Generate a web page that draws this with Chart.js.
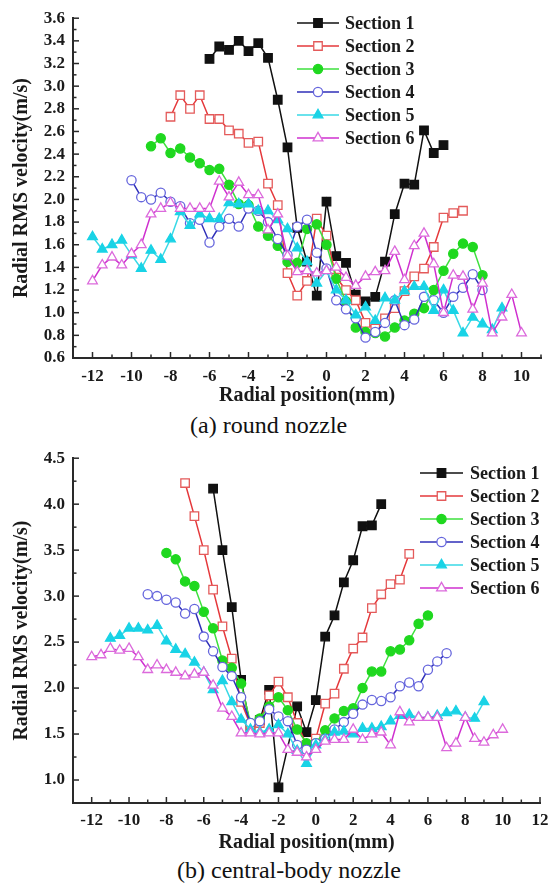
<!DOCTYPE html>
<html><head><meta charset="utf-8">
<script src="https://cdn.jsdelivr.net/npm/chart.js@4.4.1/dist/chart.umd.min.js"></script>
<style>
html,body{margin:0;padding:0;background:#fff;}
body{width:556px;height:886px;position:relative;overflow:hidden;}
.box{position:absolute;left:0;width:556px;}
.cap{position:absolute;font-family:"Liberation Serif","Times New Roman",serif;font-size:24px;color:#111;white-space:nowrap;line-height:26px;}
</style></head><body>
<div class="box" style="top:0;height:408px"><canvas id="ca" width="556" height="408"></canvas></div>
<div class="cap" style="left:190px;top:412px">(a) round nozzle</div>
<div class="box" style="top:440px;height:415px"><canvas id="cb" width="556" height="415"></canvas></div>
<div class="cap" style="left:177px;top:857px">(b) central-body nozzle</div>
<script>
// ---------- data ----------
const seriesNames = ['Section 1','Section 2','Section 3','Section 4','Section 5','Section 6'];

// (a) round nozzle
const aX1 = [-6,-5.5,-5,-4.5,-4,-3.5,-3,-2.5,-2,-1.5,-1,-0.5,0,0.5,1,1.5,2,2.5,3,3.5,4,4.5,5,5.5,6];
const aY1 = [3.24,3.35,3.32,3.40,3.31,3.38,3.25,2.88,2.46,1.75,1.45,1.15,1.98,1.50,1.44,1.16,1.10,1.14,1.45,1.87,2.14,2.13,2.61,2.41,2.48];
const aX2 = [-8,-7.5,-7,-6.5,-6,-5.5,-5,-4.5,-4,-3.5,-3,-2.5,-2,-1.5,-1,-0.5,0,0.5,1,1.5,2,2.5,3,3.5,4,4.5,5,5.5,6,6.5,7];
const aY2 = [2.73,2.92,2.80,2.92,2.71,2.71,2.61,2.58,2.50,2.51,2.14,1.95,1.35,1.15,1.28,1.83,1.68,1.31,1.20,1.11,0.91,0.86,0.95,1.04,1.19,1.32,1.39,1.58,1.84,1.88,1.90];
const aX3 = [-9,-8.5,-8,-7.5,-7,-6.5,-6,-5.5,-5,-4.5,-4,-3.5,-3,-2.5,-2,-1.5,-1,-0.5,0,0.5,1,1.5,2,2.5,3,3.5,4,4.5,5,5.5,6,6.5,7,7.5,8];
const aY3 = [2.47,2.54,2.41,2.45,2.37,2.32,2.26,2.27,2.13,1.96,1.95,1.76,1.68,1.59,1.45,1.44,1.74,1.78,1.60,1.30,1.10,0.87,0.83,0.82,0.79,0.87,0.93,0.99,1.04,1.20,1.37,1.52,1.61,1.58,1.33];
const aX4 = [-10,-9.5,-9,-8.5,-8,-7.5,-7,-6.5,-6,-5.5,-5,-4.5,-4,-3.5,-3,-2.5,-2,-1.5,-1,-0.5,0,0.5,1,1.5,2,2.5,3,3.5,4,4.5,5,5.5,6,6.5,7,7.5,8];
const aY4 = [2.17,2.02,2.00,2.06,1.98,1.94,1.79,1.82,1.62,1.76,1.83,1.76,1.92,1.90,1.80,1.65,1.51,1.76,1.82,1.53,1.39,1.11,1.03,0.95,0.78,0.83,0.91,1.11,0.89,0.94,1.14,1.11,1.00,1.14,1.22,1.34,1.20];
const aX5 = [-12,-11.5,-11,-10.5,-10,-9.5,-9,-8.5,-8,-7.5,-7,-6.5,-6,-5.5,-5,-4.5,-4,-3.5,-3,-2.5,-2,-1.5,-1,-0.5,0,0.5,1,1.5,2,2.5,3,3.5,4,4.5,5,5.5,6,6.5,7,7.5,8,8.5,9];
const aY5 = [1.67,1.56,1.60,1.64,1.51,1.39,1.55,1.47,1.65,1.89,1.77,1.87,1.83,1.83,1.97,1.96,1.96,1.90,1.90,1.82,1.74,1.57,1.45,1.26,1.37,1.20,1.11,0.98,1.05,0.93,1.13,1.11,1.19,1.23,1.23,1.02,1.20,1.02,0.82,0.96,0.90,0.85,1.04];
const aX6 = [-12,-11.5,-11,-10.5,-10,-9.5,-9,-8.5,-8,-7.5,-7,-6.5,-6,-5.5,-5,-4.5,-4,-3.5,-3,-2.5,-2,-1.5,-1,-0.5,0,0.5,1,1.5,2,2.5,3,3.5,4,4.5,5,5.5,6,6.5,7,7.5,8,8.5,9,9.5,10];
const aY6 = [1.28,1.42,1.49,1.42,1.52,1.60,1.87,1.92,1.97,1.92,1.92,1.92,1.92,2.16,2.02,2.15,2.04,2.04,1.73,1.87,1.50,1.36,1.37,1.35,1.37,1.40,1.31,1.24,1.32,1.36,1.37,1.54,1.29,1.59,1.70,1.43,1.00,1.33,1.32,1.03,1.26,0.82,0.96,1.16,0.82];
const aXTicks = [-12,-10,-8,-6,-4,-2,0,2,4,6,8,10];
const aYTicks = [0.6,0.8,1.0,1.2,1.4,1.6,1.8,2.0,2.2,2.4,2.6,2.8,3.0,3.2,3.4,3.6];

// (b) central-body nozzle
const bX1 = [-5.5,-5,-4.5,-4,-3.5,-3,-2.5,-2,-1,-0.5,0,0.5,1,1.5,2,2.5,3,3.5];
const bY1 = [4.17,3.50,2.88,2.09,1.58,1.65,1.98,0.92,1.80,1.52,1.87,2.56,2.79,3.15,3.39,3.76,3.77,4.00];
const bX2 = [-7,-6.5,-6,-5.5,-5,-4.5,-4,-3.5,-3,-2.5,-2,-1.5,-1,-0.5,0,0.5,1,1.5,2,2.5,3,3.5,4,4.5,5];
const bY2 = [4.23,3.87,3.50,3.07,2.67,2.32,1.85,1.60,1.62,1.92,2.07,1.90,1.62,1.38,1.45,1.83,1.94,2.21,2.43,2.55,2.87,3.02,3.13,3.18,3.46];
const bX3 = [-8,-7.5,-7,-6.5,-6,-5.5,-5,-4.5,-4,-3.5,-3,-2.5,-2,-1.5,-1,-0.5,0,0.5,1,1.5,2,2.5,3,3.5,4,4.5,5,5.5,6];
const bY3 = [3.47,3.40,3.16,3.11,2.83,2.65,2.30,2.22,2.05,1.62,1.67,1.80,1.90,1.76,1.55,1.40,1.40,1.54,1.67,1.75,1.78,2.00,2.18,2.18,2.40,2.42,2.52,2.70,2.79];
const bX4 = [-9,-8.5,-8,-7.5,-7,-6.5,-6,-5.5,-5,-4.5,-4,-3.5,-3,-2.5,-2,-1.5,-1,-0.5,0,0.5,1,1.5,2,2.5,3,3.5,4,4.5,5,5.5,6,6.5,7];
const bY4 = [3.02,3.00,2.96,2.93,2.81,2.86,2.56,2.40,2.23,2.13,1.90,1.62,1.64,1.77,1.69,1.64,1.38,1.33,1.40,1.45,1.55,1.63,1.72,1.82,1.87,1.86,1.90,2.02,2.06,2.02,2.20,2.29,2.38];
const bX5 = [-11,-10.5,-10,-9.5,-9,-8.5,-8,-7.5,-7,-6.5,-6,-5.5,-5,-4.5,-4,-3.5,-3,-2.5,-2,-1.5,-1,-0.5,0,0.5,1,1.5,2,2.5,3,3.5,4,4.5,5,5.5,6,6.5,7,7.5,8,8.5,9];
const bY5 = [2.54,2.57,2.65,2.65,2.63,2.68,2.51,2.42,2.37,2.28,2.17,1.98,2.08,1.85,1.66,1.55,1.52,1.55,1.60,1.50,1.32,1.18,1.38,1.44,1.52,1.53,1.50,1.56,1.56,1.58,1.64,1.70,1.71,1.68,1.68,1.70,1.73,1.75,1.68,1.67,1.85];
const bX6 = [-12,-11.5,-11,-10.5,-10,-9.5,-9,-8.5,-8,-7.5,-7,-6.5,-6,-5.5,-5,-4.5,-4,-3.5,-3,-2.5,-2,-1.5,-1,-0.5,0,0.5,1,1.5,2,2.5,3,3.5,4,4.5,5,5.5,6,6.5,7,7.5,8,8.5,9,9.5,10];
const bY6 = [2.34,2.36,2.43,2.41,2.43,2.34,2.20,2.25,2.20,2.17,2.13,2.15,2.17,2.03,1.78,1.69,1.51,1.51,1.50,1.51,1.51,1.33,1.30,1.25,1.33,1.42,1.44,1.44,1.55,1.44,1.50,1.52,1.38,1.74,1.63,1.68,1.68,1.68,1.35,1.40,1.68,1.45,1.41,1.49,1.55];
const bXTicks = [-12,-10,-8,-6,-4,-2,0,2,4,6,8,10,12];
const bYTicks = [1.0,1.5,2.0,2.5,3.0,3.5,4.0,4.5];

// ---------- styles ----------
const lineColors   = ['#111111','#e5383b','#3ee03e','#2f2fb8','#39d9e6','#cf30cf'];
const markerColors = ['#111111','#e45a5a','#1fd81f','#6666dd','#19d3e6','#dc6adc'];
const pointStyles  = ['rect','rect','circle','circle','triangle','triangle'];
const filled       = [true,false,true,false,true,false];
const radii        = [6,6,4.6,4.6,5.6,5.6];
const FONT = '"Liberation Serif","Times New Roman",serif';

function makeDatasets(xs, ys){
  return xs.map((xa,i)=>({
    label: seriesNames[i],
    data: xa.map((x,j)=>({x:x, y:ys[i][j]})),
    borderColor: lineColors[i],
    borderWidth: 1.5,
    pointStyle: pointStyles[i],
    pointRadius: radii[i],
    pointBorderWidth: 1.3,
    pointBorderColor: markerColors[i],
    pointBackgroundColor: filled[i] ? markerColors[i] : '#ffffff',
    tension: 0,
    order: 6 - i
  }));
}

function drawMarker(ctx, style, r, x, y){
  ctx.beginPath();
  if (style === 'rect'){ const s = Math.SQRT1_2*r; ctx.rect(x-s,y-s,2*s,2*s); }
  else if (style === 'circle'){ ctx.arc(x,y,r,0,Math.PI*2); }
  else { ctx.moveTo(x, y - r); ctx.lineTo(x + r*0.866, y + r*0.5); ctx.lineTo(x - r*0.866, y + r*0.5); ctx.closePath(); }
  ctx.fill(); ctx.stroke();
}

const legendPlugin = {
  id: 'customLegend',
  afterDatasetsDraw(chart, args, o){
    const ctx = chart.ctx;
    chart.data.datasets.forEach((ds,i)=>{
      const y = o.y0 + i*o.dy;
      ctx.save();
      ctx.strokeStyle = ds.borderColor; ctx.lineWidth = 1.5;
      ctx.beginPath(); ctx.moveTo(o.x0,y); ctx.lineTo(o.x1,y); ctx.stroke();
      ctx.fillStyle = ds.pointBackgroundColor; ctx.strokeStyle = ds.pointBorderColor; ctx.lineWidth = ds.pointBorderWidth;
      drawMarker(ctx, ds.pointStyle, ds.pointRadius, (o.x0+o.x1)/2, y);
      ctx.fillStyle = '#1a1a1a';
      ctx.font = 'bold 18px ' + FONT;
      ctx.textBaseline = 'middle'; ctx.textAlign = 'left';
      ctx.fillText(ds.label, o.tx, y + 1);
      ctx.restore();
    });
  }
};

const innerTicks = {
  id: 'innerTicks',
  afterDraw(chart, args, o){
    const {ctx, chartArea: ca} = chart;
    const xs = chart.scales.x, ys = chart.scales.y;
    ctx.save();
    ctx.strokeStyle = '#2a2a2a'; ctx.lineWidth = 1.5;
    const seg = (x1,y1,x2,y2)=>{ctx.beginPath();ctx.moveTo(x1,y1);ctx.lineTo(x2,y2);ctx.stroke();};
    const xt = o.xTicks, yt = o.yTicks;
    xt.forEach(v=>{const p = xs.getPixelForValue(v); seg(p, ca.bottom, p, ca.bottom - 6);});
    const xStep = xt[1]-xt[0];
    for (let v = xt[0]-xStep/2; v <= xs.max; v += xStep){
      if (v < xs.min) continue;
      const p = xs.getPixelForValue(v); seg(p, ca.bottom, p, ca.bottom - 3.5);
    }
    yt.forEach(v=>{const p = ys.getPixelForValue(v); seg(ca.left, p, ca.left + 6, p);});
    const yStep = yt[1]-yt[0];
    for (let v = yt[0]-yStep/2; v <= ys.max + 1e-9; v += yStep){
      if (v < ys.min - 1e-9) continue;
      const p = ys.getPixelForValue(v); seg(ca.left, p, ca.left + 3.5, p);
    }
    ctx.restore();
  }
};

function makeChart(id, xs, ys, cfg){
  return new Chart(document.getElementById(id), {
    type: 'line',
    data: { datasets: makeDatasets(xs, ys) },
    plugins: [legendPlugin, innerTicks],
    options: {
      responsive: false, animation: false,
      layout: { padding: { top: cfg.padTop, right: cfg.padRight, left: 0, bottom: 0 } },
      plugins: {
        legend: { display: false }, tooltip: { enabled: false },
        customLegend: cfg.legend,
        innerTicks: { xTicks: cfg.xTicks, yTicks: cfg.yTicks }
      },
      scales: {
        x: {
          type: 'linear', min: cfg.xMin, max: cfg.xMax,
          afterBuildTicks: s => { s.ticks = cfg.xTicks.map(v=>({value:v})); },
          afterFit: s => { s.height = cfg.xH; },
          grid: { display: false, drawTicks: false },
          border: { display: true, color: '#2a2a2a', width: 2 },
          ticks: { padding: cfg.xPad, color: '#1a1a1a', font: { family: FONT, size: 17, weight: 'bold' }, maxRotation: 0, autoSkip: false,
                   callback: v => String(v) },
          title: { display: true, text: 'Radial position(mm)', color: '#1a1a1a', padding: { top: 0, bottom: 0 },
                   font: { family: FONT, size: 20, weight: 'bold' } }
        },
        y: {
          type: 'linear', min: cfg.yMin, max: cfg.yMax,
          afterBuildTicks: s => { s.ticks = cfg.yTicks.map(v=>({value:v})); },
          afterFit: s => { s.width = 73; },
          grid: { display: false, drawTicks: false },
          border: { display: true, color: '#2a2a2a', width: 2 },
          ticks: { padding: 8, color: '#1a1a1a', font: { family: FONT, size: 17, weight: 'bold' }, autoSkip: false,
                   callback: v => Number(v).toFixed(1) },
          title: { display: true, text: 'Radial RMS velocity(m/s)', color: '#1a1a1a', padding: { top: 10, bottom: 0 },
                   font: { family: FONT, size: 20, weight: 'bold' } }
        }
      }
    }
  });
}

makeChart('ca', [aX1,aX2,aX3,aX4,aX5,aX6], [aY1,aY2,aY3,aY4,aY5,aY6], {
  padTop: 15, padRight: 15, xMin: -13, xMax: 11, yMin: 0.6, yMax: 3.6,
  xTicks: aXTicks, yTicks: aYTicks, xH: 50, xPad: 8,
  legend: { x0: 297, x1: 339, tx: 345, y0: 23, dy: 23 }
});
makeChart('cb', [bX1,bX2,bX3,bX4,bX5,bX6], [bY1,bY2,bY3,bY4,bY5,bY6], {
  padTop: 17, padRight: 16, xMin: -13, xMax: 12, yMin: 0.75, yMax: 4.5,
  xTicks: bXTicks, yTicks: bYTicks, xH: 52, xPad: 7,
  legend: { x0: 420, x1: 463, tx: 470, y0: 33, dy: 23 }
});
</script>
</body></html>
